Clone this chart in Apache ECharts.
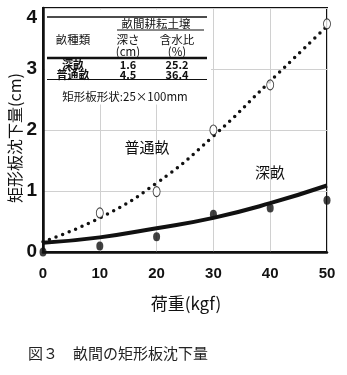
<!DOCTYPE html>
<html>
<head>
<meta charset="utf-8">
<script src="https://cdn.jsdelivr.net/npm/echarts@6/dist/echarts.min.js"></script>
<style>
  html, body { margin: 0; padding: 0; background: #fff; }
  #chart { width: 347px; height: 375px; }
</style>
</head>
<body>
<div id="chart"></div>
<script>
// Load (kgf) on the x axis
const loads = [0, 10, 20, 30, 40, 50];
// Measured settlement of the rectangular plate (cm)
const deepFurrow = [0, 0.1, 0.25, 0.62, 0.72, 0.85];
const normalFurrow = [0, 0.64, 0.99, 2.0, 2.74, 3.74];
// Fitted curves through each set of measurements
const deepFit = [0.15, 0.24, 0.39, 0.56, 0.8, 1.09];
const normalFit = [0.17, 0.56, 1.13, 1.9, 2.8, 3.7];
// Tick labels
const xTicks = ['0', '10', '20', '30', '40', '50'];
const yTicks = ['0', '1', '2', '3', '4'];
// Inset table of furrow soil conditions
const tableRows = [
  ['深畝', '1.6', '25.2'],
  ['普通畝', '4.5', '36.4']
];

const pairs = (ys) => loads.map((x, i) => [x, ys[i]]);
const numFont = '"Liberation Sans Narrow", "Liberation Sans", Arial, sans-serif';
const cjkFont = '"Noto Sans CJK JP", "Noto Sans", sans-serif';

const chart = echarts.init(document.getElementById('chart'), null, { renderer: 'canvas' });

// text helper for the inset table (anchored at its centre)
const txt = (s, cx, cy, weight, size) => ({
  type: 'text', x: cx, y: cy, z: 20,
  style: { text: s, font: (weight || 'normal') + ' ' + (size || 11.5) + 'px ' + cjkFont,
           fill: '#111', align: 'center', verticalAlign: 'middle' }
});
const hLine = (x1, x2, y, w) => ({
  type: 'line', z: 20, shape: { x1, y1: y, x2, y2: y }, style: { stroke: '#111', lineWidth: w }
});

const tableGraphics = [
  { type: 'rect', z: 10, shape: { x: 45, y: 9.5, width: 166, height: 95 }, style: { fill: '#fff' } },
  hLine(47, 207, 17, 1.5),
  hLine(117, 204, 30, 1.2),
  hLine(47, 207, 58, 2.5),
  hLine(47, 207, 79.5, 1.2),
  txt('畝間耕耘土壌', 156, 23.5),
  txt('畝種類', 73, 40),
  txt('深さ', 128, 40),
  txt('含水比', 177, 40),
  txt('(cm)', 128, 52),
  txt('(%)', 177, 52)
];
tableRows.forEach((row, i) => {
  const y = 64.5 + i * 10.5;
  tableGraphics.push(txt(row[0], 73, y, 'bold', 11));
  tableGraphics.push(txt(row[1], 128, y, 'bold', 11));
  tableGraphics.push(txt(row[2], 177, y, 'bold', 11));
});
tableGraphics.push(txt('矩形板形状:25×100mm', 125, 97));

chart.setOption({
  animation: false,
  backgroundColor: '#fff',
  grid: { left: 43, right: 20, top: 8, bottom: 123, show: true, borderColor: '#111', borderWidth: 2,
          containLabel: false, outerBoundsMode: 'none' },
  xAxis: {
    type: 'value', min: 0, max: 50, interval: 10,
    axisLine: { show: true, lineStyle: { color: '#111', width: 2.5 } },
    axisTick: { show: false },
    splitLine: { show: true, lineStyle: { color: '#d0d0d0', width: 1 } },
    axisLabel: { margin: 14, color: '#111', fontSize: 15, fontWeight: 'bold', fontFamily: numFont,
      formatter: (v) => xTicks[loads.indexOf(v)] }
  },
  yAxis: {
    type: 'value', min: 0, max: 4, interval: 1,
    axisLine: { show: true, lineStyle: { color: '#111', width: 2.5 } },
    axisTick: { show: false },
    splitLine: { show: true, lineStyle: { color: '#d0d0d0', width: 1 } },
    axisLabel: { margin: 6, color: '#111', fontSize: 19, fontWeight: 'bold', fontFamily: numFont,
      verticalAlignMaxLabel: 'top',
      formatter: (v) => yTicks[v] }
  },
  series: [
    {
      name: '深畝 fit', type: 'line', smooth: true, showSymbol: false, z: 3,
      data: pairs(deepFit),
      lineStyle: { color: '#111', width: 4 }
    },
    {
      name: '普通畝 fit', type: 'line', smooth: true, showSymbol: false, z: 3,
      data: pairs(normalFit),
      lineStyle: { color: '#111', width: 3.5, type: [0, 7], cap: 'round' }
    },
    {
      name: '深畝', type: 'scatter', symbol: 'circle', symbolSize: [7, 9], z: 4,
      data: pairs(deepFurrow),
      itemStyle: { color: '#111' }
    },
    {
      name: '普通畝', type: 'scatter', symbol: 'circle', symbolSize: [7, 10], z: 4,
      data: pairs(normalFurrow).slice(1),
      itemStyle: { color: '#fff', borderColor: '#111', borderWidth: 1 }
    }
  ],
  graphic: tableGraphics.concat([
    // axis titles
    { type: 'text', x: 15, y: 138, rotation: Math.PI / 2, z: 20,
      style: { text: '矩形板沈下量(cm)', font: '16px ' + cjkFont, fill: '#111', align: 'center', verticalAlign: 'middle' } },
    { type: 'text', x: 186, y: 304, z: 20,
      style: { text: '荷重(kgf)', font: '17px ' + cjkFont, fill: '#111', align: 'center', verticalAlign: 'middle' } },
    // curve labels
    { type: 'text', x: 147, y: 147, z: 20, style: { text: '普通畝', font: '15px ' + cjkFont, fill: '#111', align: 'center', verticalAlign: 'middle' } },
    { type: 'text', x: 270, y: 172, z: 20, style: { text: '深畝', font: '15px ' + cjkFont, fill: '#111', align: 'center', verticalAlign: 'middle' } },
    // figure caption
    { type: 'text', x: 28, y: 353, z: 20, style: { text: '図３　畝間の矩形板沈下量', font: '15px ' + cjkFont, fill: '#222', verticalAlign: 'middle' } }
  ])
});
</script>
</body>
</html>
